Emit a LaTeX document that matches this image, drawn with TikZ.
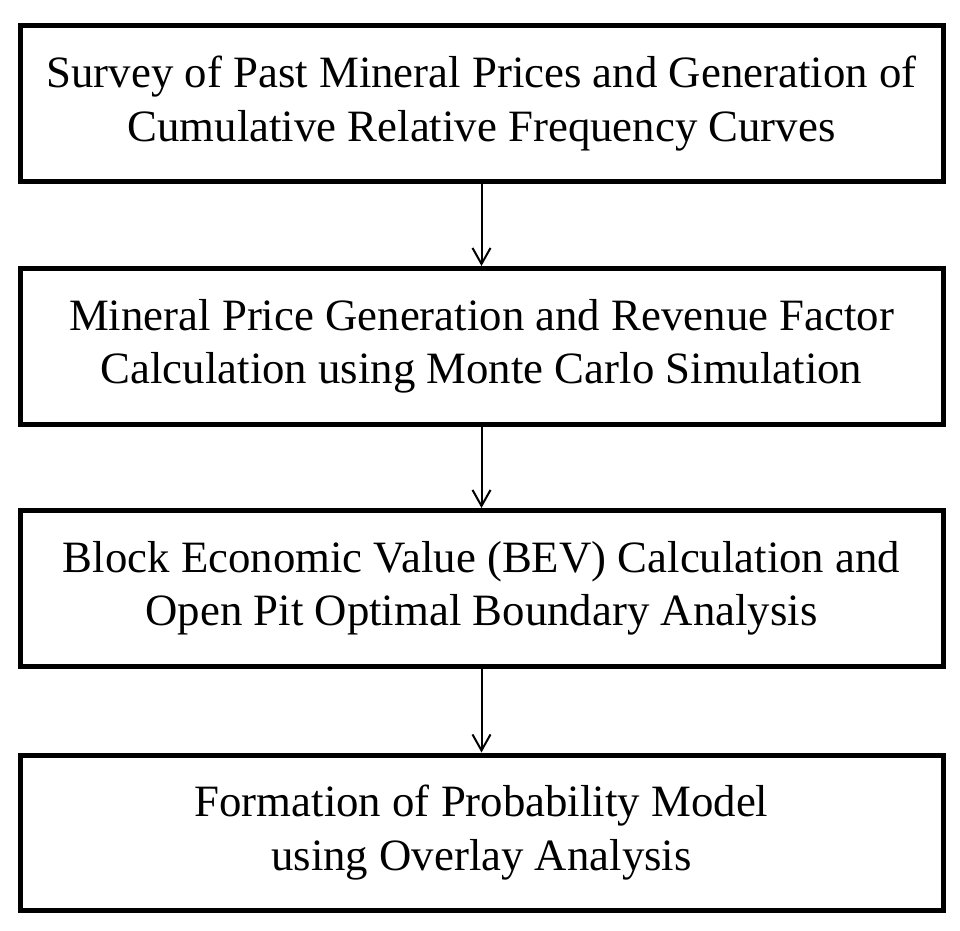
\documentclass[tikz,border=0pt]{standalone}
\usepackage{fontspec}
\setmainfont{Liberation Serif}
\usetikzlibrary{arrows.meta}
\tikzset{
  stepbox/.style={draw=black, line width=2.5pt, rectangle, minimum width=461.5pt, minimum height=77.75pt, inner sep=0pt, align=center, font=\fontsize{22.4}{26.7}\selectfont},
  flowarrow/.style={line width=1pt, -{Straight Barb[length=8pt,width=9pt,line width=1pt]}}
}
\begin{document}
\begin{tikzpicture}[x=0.5pt,y=-0.5pt]
\useasboundingbox (0,0) rectangle (960,931);
\node[stepbox] (b1) at (481.5,103.75) {Survey of Past Mineral Prices and Generation of\\Cumulative Relative Frequency Curves};
\node[stepbox] (b2) at (481.5,346.25) {Mineral Price Generation and Revenue Factor\\Calculation using Monte Carlo Simulation};
\node[stepbox] (b3) at (481.5,588.25) {Block Economic Value (BEV) Calculation and\\Open Pit Optimal Boundary Analysis};
\node[stepbox] (b4) at (481.5,832.75) {Formation of Probability Model\\using Overlay Analysis};
\draw[flowarrow] (b1.south) -- (b2.north);
\draw[flowarrow] (b2.south) -- (b3.north);
\draw[flowarrow] (b3.south) -- (b4.north);
\end{tikzpicture}
\end{document}
